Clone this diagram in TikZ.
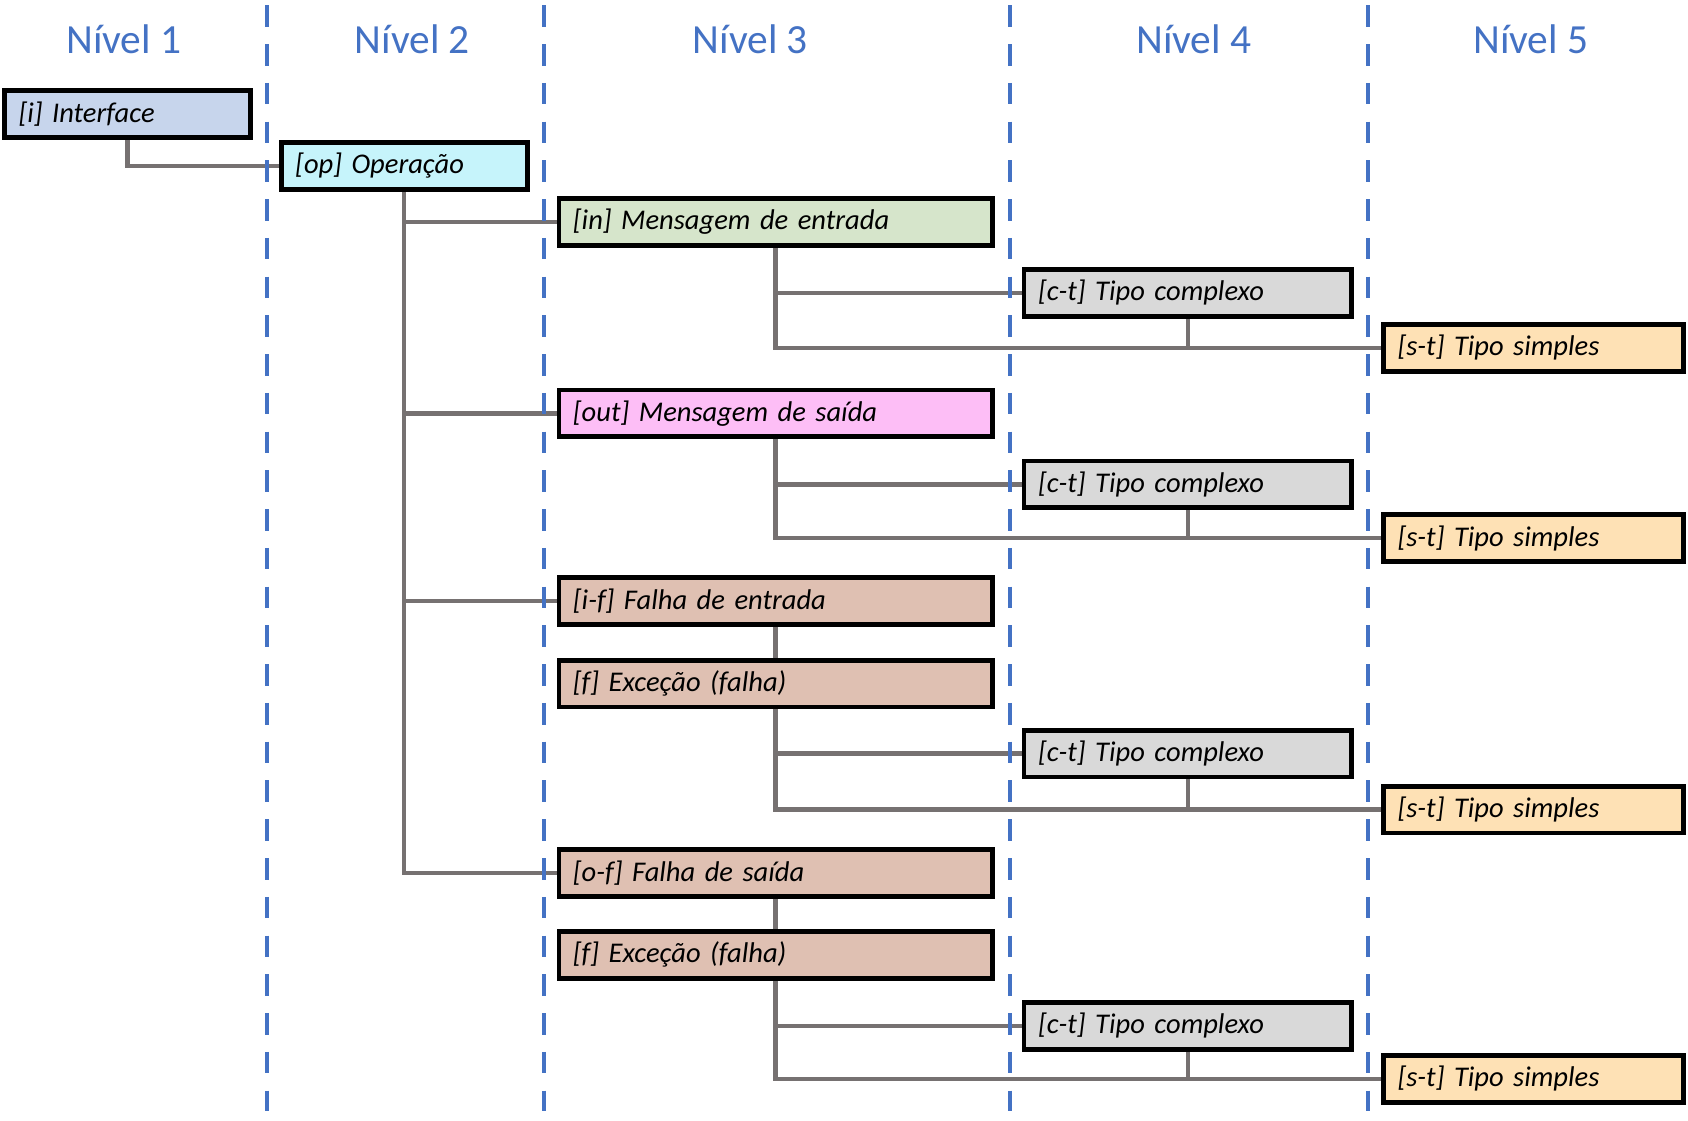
\documentclass[tikz,border=0pt]{standalone}
\usepackage{fontspec}
\setmainfont{Carlito}
\usetikzlibrary{backgrounds}
\definecolor{hdrblue}{HTML}{4472C4}
\definecolor{conngray}{HTML}{767171}
\definecolor{cInt}{HTML}{C7D5EC}
\definecolor{cOp}{HTML}{C6F4FB}
\definecolor{cIn}{HTML}{D6E5CB}
\definecolor{cOut}{HTML}{FDBEF6}
\definecolor{cFail}{HTML}{DFC0B2}
\definecolor{cCt}{HTML}{D9D9D9}
\definecolor{cSt}{HTML}{FEE1B5}
\begin{document}
\begin{tikzpicture}[x=1pt,y=-1pt,
  box/.style={draw=black, line width=4.5pt, inner xsep=13pt, inner ysep=0pt,
    minimum height=43.5pt, align=left, anchor=center,
    font=\fontsize{26.5}{30}\selectfont\itshape},
  lvA/.style={box, text width=202.5pt},
  lvB/.style={box, text width=376.5pt},
  lvC/.style={box, text width=278.5pt},
  lvD/.style={box, text width=252.5pt},
  hdr/.style={text=hdrblue, font=\fontsize{38.5}{44}\selectfont},
  sep/.style={draw=hdrblue, line width=4pt, dash pattern=on 20pt off 16pt},
  conn/.style={draw=conngray, line width=4pt}]
\useasboundingbox (0,0) rectangle (1568,1041);

% headers
\node[hdr] (h1) at (115,36) {Nível 1};
\node[hdr] (h2) at (383,36) {Nível 2};
\node[hdr] (h3) at (697,36) {Nível 3};
\node[hdr] (h4) at (1109,36) {Nível 4};
\node[hdr] (h5) at (1422,36) {Nível 5};

% boxes
\node[lvA, fill=cInt] (int) at (118.5,106) {[i] Interface};
\node[lvA, fill=cOp] (op) at (375.5,154) {[op] Operação};

\node[lvB, fill=cIn] (in) at (720.5,206) {[in] Mensagem de entrada};
\node[lvC, fill=cCt] (ct1) at (1103.5,272) {[c-t] Tipo complexo};
\node[lvD, fill=cSt] (st1) at (1424.5,323) {[s-t] Tipo simples};

\node[lvB, fill=cOut] (out) at (720.5,384) {[out] Mensagem de saída};
\node[lvC, fill=cCt] (ct2) at (1103.5,450) {[c-t] Tipo complexo};
\node[lvD, fill=cSt] (st2) at (1424.5,500) {[s-t] Tipo simples};

\node[lvB, fill=cFail] (if) at (720.5,558) {[i-f] Falha de entrada};
\node[lvB, fill=cFail] (f1) at (720.5,635) {[f] Exceção (falha)};
\node[lvC, fill=cCt] (ct3) at (1103.5,700) {[c-t] Tipo complexo};
\node[lvD, fill=cSt] (st3) at (1424.5,752) {[s-t] Tipo simples};

\node[lvB, fill=cFail] (of) at (720.5,811) {[o-f] Falha de saída};
\node[lvB, fill=cFail] (f2) at (720.5,887) {[f] Exceção (falha)};
\node[lvC, fill=cCt] (ct4) at (1103.5,953) {[c-t] Tipo complexo};
\node[lvD, fill=cSt] (st4) at (1424.5,1002) {[s-t] Tipo simples};

\begin{pgfonlayer}{background}
  % connectors
  \draw[conn] (int.south) |- (op.west);
  \draw[conn] (op.south) |- (of.west);
  \draw[conn] (op.south |- in.west) -- (in.west);
  \draw[conn] (op.south |- out.west) -- (out.west);
  \draw[conn] (op.south |- if.west) -- (if.west);

  \draw[conn] (in.south) |- (st1.west);
  \draw[conn] (in.south |- ct1.west) -- (ct1.west);
  \draw[conn] (ct1.south) -- (ct1.south |- st1.west);

  \draw[conn] (out.south) |- (st2.west);
  \draw[conn] (out.south |- ct2.west) -- (ct2.west);
  \draw[conn] (ct2.south) -- (ct2.south |- st2.west);

  \draw[conn] (if.south) -- (f1.north);
  \draw[conn] (f1.south) |- (st3.west);
  \draw[conn] (f1.south |- ct3.west) -- (ct3.west);
  \draw[conn] (ct3.south) -- (ct3.south |- st3.west);

  \draw[conn] (of.south) -- (f2.north);
  \draw[conn] (f2.south) |- (st4.west);
  \draw[conn] (f2.south |- ct4.west) -- (ct4.west);
  \draw[conn] (ct4.south) -- (ct4.south |- st4.west);

  % level separators
  \coordinate (s1t) at (248,5);   \coordinate (s1b) at (248,1032);
  \coordinate (s2t) at (505,5);   \coordinate (s2b) at (505,1032);
  \coordinate (s3t) at (938,5);   \coordinate (s3b) at (938,1032);
  \coordinate (s4t) at (1271,5);  \coordinate (s4b) at (1271,1032);
  \draw[sep] (s1t) -- (s1b);
  \draw[sep] (s2t) -- (s2b);
  \draw[sep] (s3t) -- (s3b);
  \draw[sep] (s4t) -- (s4b);
\end{pgfonlayer}
\end{tikzpicture}
\end{document}
